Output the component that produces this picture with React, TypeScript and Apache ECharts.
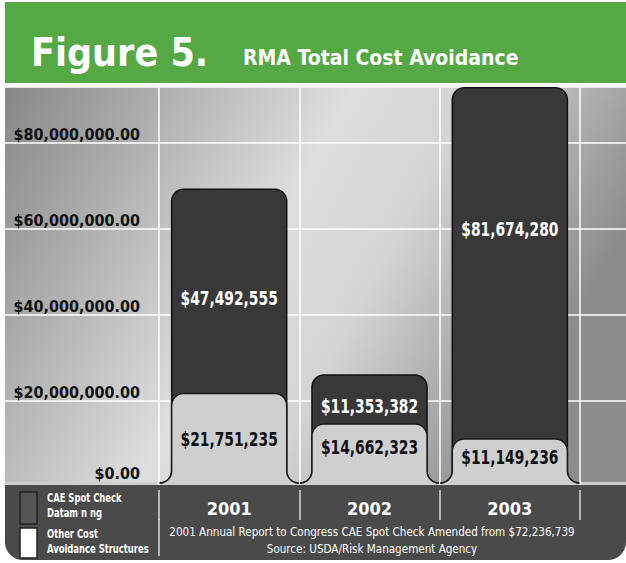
import React, { useEffect, useRef } from 'react';
import * as echarts from 'echarts';

const categories = ['2001', '2002', '2003'];
const dataMining = [47492555, 11353382, 81674280];
const otherCost = [21751235, 14662323, 11149236];
const yTicks = [0, 20000000, 40000000, 60000000, 80000000];
const legendNames = ['CAE Spot Check\nDatam n ng', 'Other Cost\nAvoidance Structures'];
const footnotes = [
  '2001 Annual Report to Congress CAE Spot Check Amended from $72,236,739',
  'Source: USDA/Risk Management Agency',
];
const titleText = 'Figure 5.';
const subtitleText = 'RMA Total Cost Avoidance';

const FONT = "'DejaVu Sans Condensed', 'DejaVu Sans', sans-serif";
const DARK = '#383838';
const LIGHT = '#cfcfcf';
const DARK_LABEL_DY = [6, 6, -35];
const LIGHT_LABEL_DY = [0, -7, -4];

const money = (v: number) => '$' + v.toLocaleString('en-US');

export default function App() {
  const ref = useRef<HTMLDivElement>(null);
  useEffect(() => {
    document.body.style.margin = '0';
    const chart = echarts.init(ref.current!, null, { renderer: 'svg' });

    const renderItem = (params: any, api: any) => {
      const i = api.value(0);
      const other = api.value(1);
      const dm = api.value(2);
      const [cx, base0] = api.coord([i, 0]);
      const lightTop = api.coord([i, other])[1];
      const top = api.coord([i, other + dm])[1];
      const band = api.size([1, 0])[0];
      const w = band * 0.82;
      const x0 = cx - w / 2;
      const x1 = cx + w / 2;
      const B = base0 - 4;
      const r = 12;
      const R = 12;
      const shape = (t: number) =>
        `M${x0 - r} ${B} A${r} ${r} 0 0 0 ${x0} ${B - r} L${x0} ${t + R} A${R} ${R} 0 0 1 ${x0 + R} ${t} ` +
        `L${x1 - R} ${t} A${R} ${R} 0 0 1 ${x1} ${t + R} L${x1} ${B - r} A${r} ${r} 0 0 0 ${x1 + r} ${B}`;
      const idx = params.dataIndex;
      const labelStyle = {
        fontSize: 20, fontWeight: 'bold', fontFamily: FONT, align: 'center', verticalAlign: 'middle',
      };
      return {
        type: 'group',
        children: [
          { type: 'path', shape: { pathData: shape(top) }, style: { fill: DARK, stroke: '#111', lineWidth: 1.5 } },
          { type: 'path', shape: { pathData: shape(lightTop) }, style: { fill: LIGHT, stroke: '#1a1a1a', lineWidth: 1.5 } },
          {
            type: 'text',
            x: cx,
            y: (top + lightTop) / 2 + DARK_LABEL_DY[idx],
            scaleX: 0.77,
            style: { ...labelStyle, text: money(dm), fill: '#fff' },
          },
          {
            type: 'text',
            x: cx,
            y: (lightTop + B) / 2 + LIGHT_LABEL_DY[idx],
            scaleX: 0.77,
            style: { ...labelStyle, text: money(other), fill: '#111' },
          },
        ],
      };
    };

    const yMax = 93000000;

    const option: any = {
      animation: false,
      grid: [
        { left: 5, right: 0, top: 87, bottom: 76 },
        { left: 159, right: 46, top: 87, bottom: 76 },
      ],
      xAxis: [
        { gridIndex: 0, type: 'value', min: 0, max: 1, show: false },
        {
          gridIndex: 1, type: 'category', data: categories, z: 0,
          axisLine: { show: false }, axisTick: { show: false }, axisLabel: { show: false },
          splitLine: { show: true, lineStyle: { color: '#ffffff', width: 1.5 } },
        },
        {
          gridIndex: 1, type: 'category', data: categories, z: 20, position: 'bottom', offset: 3,
          axisLine: { show: false },
          axisTick: { show: true, length: 30, lineStyle: { color: '#d8d8d8', width: 1.5 } },
          axisLabel: { color: '#ffffff', fontSize: 18, fontWeight: 'bold', fontFamily: FONT, margin: 9, verticalAlign: 'top' },
          splitLine: { show: false },
        },
      ],
      yAxis: [
        {
          gridIndex: 0, type: 'value', min: 0, max: yMax, interval: 20000000, position: 'left', z: 0,
          axisLine: { show: false }, axisTick: { show: false }, axisLabel: { show: false },
          splitLine: { show: true, lineStyle: { color: '#ffffff', width: 1.5 } },
        },
        {
          gridIndex: 0, type: 'value', min: 0, max: yMax, interval: 20000000, position: 'left', z: 20,
          axisLine: { show: false }, axisTick: { show: false }, splitLine: { show: false },
          axisLabel: {
            inside: true, align: 'right', margin: 135, verticalAlign: 'bottom', showMaxLabel: false,
            color: '#111', fontSize: 16, fontWeight: 'bold', fontFamily: FONT,
            formatter: (v: number) => {
              if (!yTicks.includes(v)) return '';
              const s = '$' + v.toLocaleString('en-US', { minimumFractionDigits: 2, maximumFractionDigits: 2 });
              return v === 0 ? '{z|' + s + '}' : s;
            },
            rich: { z: { color: '#111', fontSize: 16, fontWeight: 'bold', fontFamily: FONT, padding: [0, 0, 6, 0] } },
          },
        },
        { gridIndex: 1, type: 'value', min: 0, max: yMax, interval: 20000000, show: false, splitLine: { show: false } },
      ],
      graphic: [
        {
          type: 'rect', z: -10, shape: { x: 5, y: 87, width: 621, height: 400 },
          style: {
            fill: new echarts.graphic.LinearGradient(0, 0, 1, 0.35, [
              { offset: 0, color: '#878787' },
              { offset: 0.5, color: '#dedede' },
              { offset: 0.68, color: '#d4d4d4' },
              { offset: 1, color: '#8c8c8c' },
            ]),
          },
        },
        { type: 'rect', z: -9, shape: { x: 5, y: 482, width: 621, height: 6 }, style: { fill: LIGHT } },
        { type: 'rect', z: 5, shape: { x: 5, y: 2, width: 621, height: 81 }, style: { fill: '#54a944' } },
        {
          type: 'text', z: 6, x: 31, y: 52,
          style: { text: titleText, fill: '#fff', fontSize: 39, fontWeight: 'bold', fontFamily: FONT, verticalAlign: 'middle' },
        },
        {
          type: 'text', z: 6, x: 243, y: 58,
          style: { text: subtitleText, fill: '#fff', fontSize: 21, fontWeight: 'bold', fontFamily: FONT, verticalAlign: 'middle' },
        },
        {
          type: 'rect', z: 10, shape: { x: 5, y: 485, width: 621, height: 75, r: [0, 0, 18, 18] },
          style: { fill: '#4a4a4a' },
        },
        { type: 'rect', z: 11, shape: { x: 20, y: 492, width: 17, height: 32 }, style: { fill: '#555555', stroke: '#222', lineWidth: 1.5 } },
        { type: 'rect', z: 11, shape: { x: 20, y: 528, width: 17, height: 30 }, style: { fill: '#ffffff', stroke: '#222', lineWidth: 1.5 } },
        {
          type: 'text', z: 11, x: 47, y: 506, scaleX: 0.78,
          style: { text: legendNames[0], fill: '#fff', fontSize: 12, fontWeight: 'bold', fontFamily: FONT, lineHeight: 15, verticalAlign: 'middle' },
        },
        {
          type: 'text', z: 11, x: 47, y: 542, scaleX: 0.78,
          style: { text: legendNames[1], fill: '#fff', fontSize: 12, fontWeight: 'bold', fontFamily: FONT, lineHeight: 15, verticalAlign: 'middle' },
        },
        { type: 'line', z: 11, shape: { x1: 159, y1: 519, x2: 159, y2: 556 }, style: { stroke: '#d8d8d8', lineWidth: 1.5 } },
        {
          type: 'text', z: 11, x: 372, y: 532, scaleX: 0.89,
          style: { text: footnotes[0], fill: '#fff', fontSize: 13, fontFamily: FONT, align: 'center', verticalAlign: 'middle' },
        },
        {
          type: 'text', z: 11, x: 372, y: 549, scaleX: 0.89,
          style: { text: footnotes[1], fill: '#fff', fontSize: 13, fontFamily: FONT, align: 'center', verticalAlign: 'middle' },
        },
      ],
      series: [
        {
          type: 'custom',
          xAxisIndex: 1,
          yAxisIndex: 2,
          z: 2,
          renderItem,
          encode: { x: 0, y: [1, 2] },
          data: categories.map((_, i) => [i, otherCost[i], dataMining[i]]),
        },
      ],
    };
    chart.setOption(option);
    return () => chart.dispose();
  }, []);
  return <div ref={ref} style={{ width: 626, height: 563 }} />;
}
